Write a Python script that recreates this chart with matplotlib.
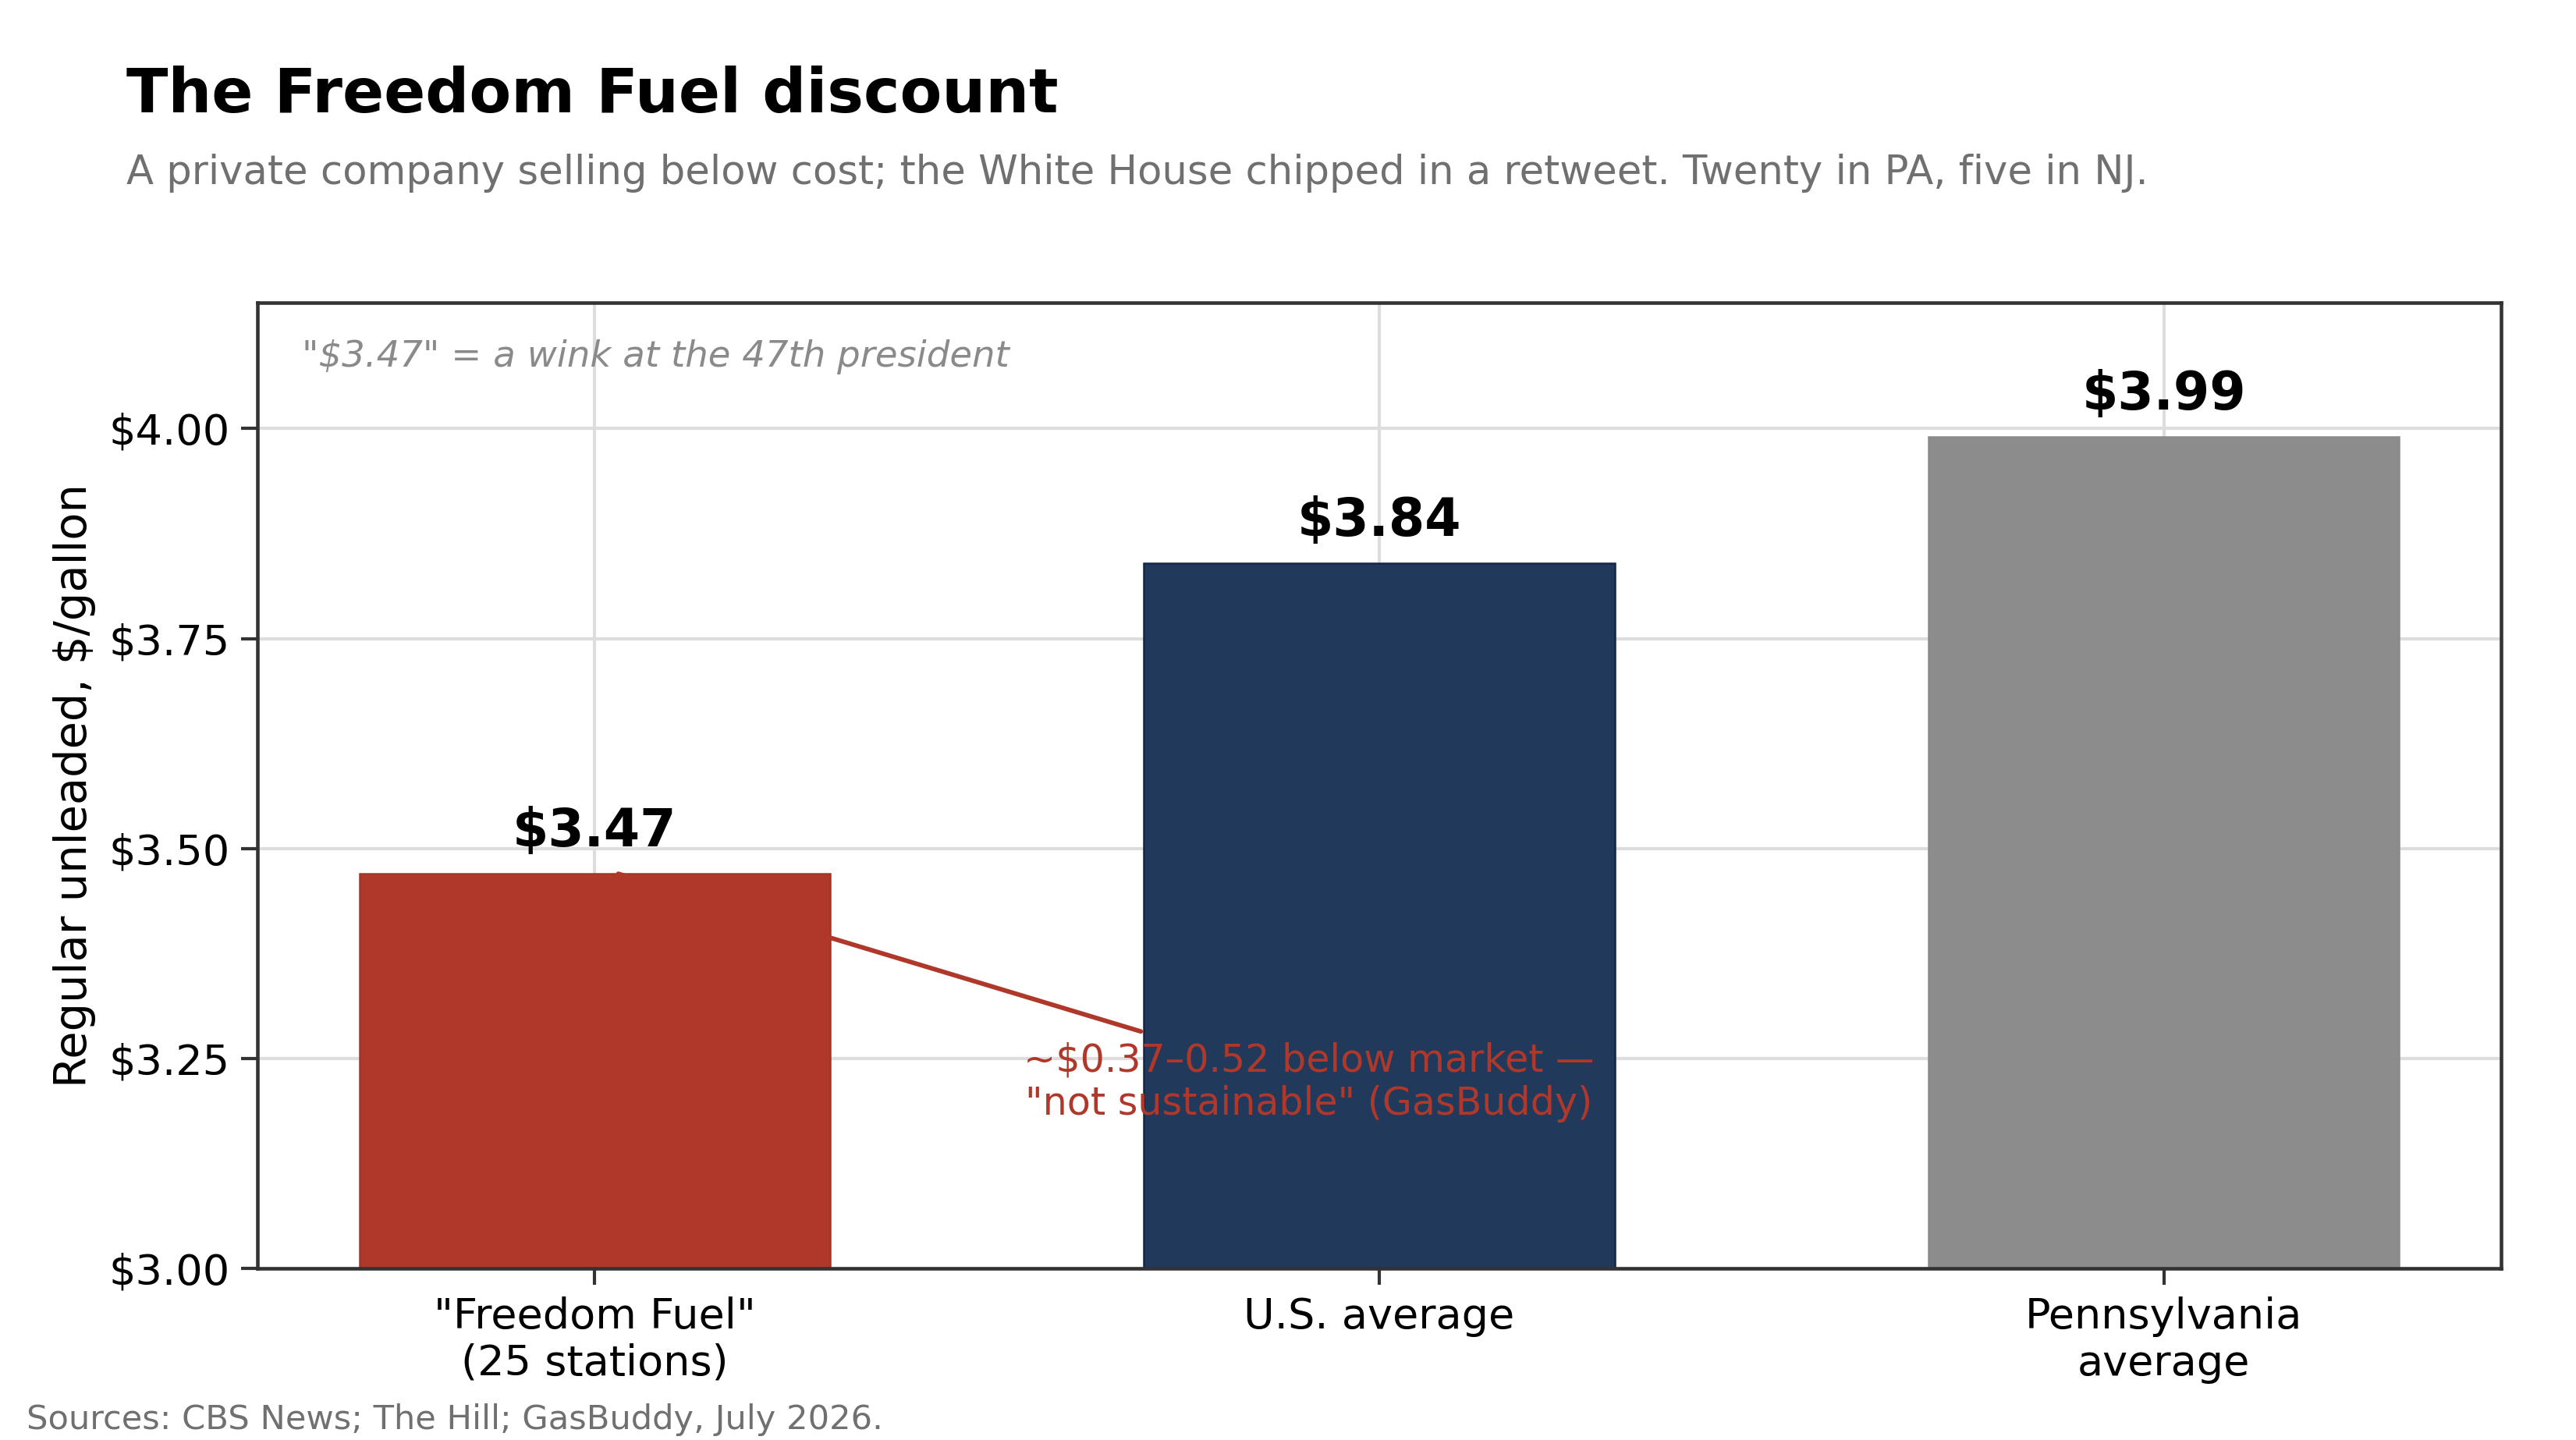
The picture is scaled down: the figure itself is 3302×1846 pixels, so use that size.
import matplotlib
matplotlib.use('Agg')
import matplotlib.pyplot as plt

categories = ['"Freedom Fuel"\n(25 stations)', 'U.S. average', 'Pennsylvania\naverage']
prices = [3.47, 3.84, 3.99]
bar_colors = ['#b0382b', '#213a5b', '#8c8c8c']
edge_colors = ['#a33428', '#14254a', '#8a8a8a']
y_ticks = [3.00, 3.25, 3.50, 3.75, 4.00]

plt.rcParams['font.family'] = ['DejaVu Sans']

fig = plt.figure(figsize=(3302 / 300, 1846 / 300), dpi=300)
ax = fig.add_axes([0.0999, 0.119, 0.8711, 0.671])

x = list(range(len(categories)))
ax.bar(x, prices, width=0.6, color=bar_colors, edgecolor=edge_colors,
       linewidth=0.6, zorder=2)

for xi, p in zip(x, prices):
    ax.annotate(f"${p:.2f}", xy=(xi, p), xytext=(0, 5), textcoords='offset points',
                ha='center', va='bottom', fontsize=16, fontweight='bold', zorder=4)

ax.annotate('~$0.37\u20130.52 below market \u2014\n"not sustainable" (GasBuddy)',
            xy=(0.03, prices[0]), xytext=(0.91, 3.222), textcoords='data',
            ha='center', va='center', fontsize=11.8, color='#b0382b', zorder=5,
            arrowprops=dict(arrowstyle='-', color='#b0382b', lw=1.4,
                            shrinkA=4, shrinkB=0, zorder=1))

ax.text(0.02, 0.962, '"$3.47" = a wink at the 47th president', transform=ax.transAxes,
        ha='left', va='top', fontsize=11.2, style='italic', color='#8a8a8a')

ax.set_ylim(3.0, 4.15)
ax.set_yticks(y_ticks)
ax.set_yticklabels([f"${t:.2f}" for t in y_ticks])
ax.set_xticks(x)
ax.set_xticklabels(categories)
ax.tick_params(axis='both', labelsize=13, length=5, width=1, color='#333333')
ax.set_ylabel('Regular unleaded, $/gallon', fontsize=13.8)
ax.grid(True, color='#dddddd', linewidth=1, zorder=0)
ax.set_axisbelow(True)
for s in ax.spines.values():
    s.set_color('#333333')
    s.set_linewidth(1.1)

fig.text(0.049, 0.934, 'The Freedom Fuel discount', fontsize=18.8, fontweight='bold',
         ha='left', va='center')
fig.text(0.049, 0.880, 'A private company selling below cost; the White House chipped in a retweet. '
         'Twenty in PA, five in NJ.', fontsize=12.3, color='#707070', ha='left', va='center')
fig.text(0.0103, 0.014, 'Sources: CBS News; The Hill; GasBuddy, July 2026.', fontsize=10.4,
         color='#707070', ha='left', va='center')

fig.savefig('out.png', dpi=300)
